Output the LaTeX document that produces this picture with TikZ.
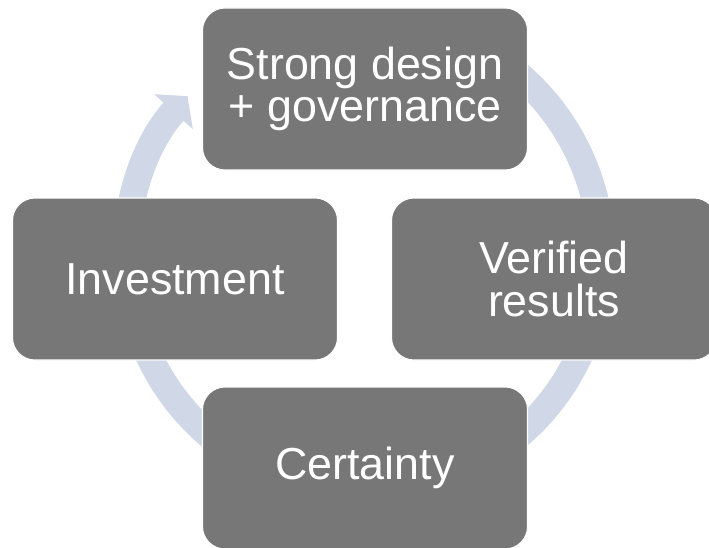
\documentclass[tikz,border=0pt]{standalone}
\usepackage{fontspec}
\setmainfont{Liberation Sans}
\usetikzlibrary{positioning, arrows.meta, calc}
\definecolor{boxgray}{RGB}{119,119,119}
\definecolor{ringblue}{RGB}{208,216,232}
\tikzset{%
  stage/.style={rectangle, rounded corners=0.45cm, fill=boxgray, draw=white, line width=0.6pt,
    minimum width=6.5cm, minimum height=3.24cm, inner sep=0mm, outer sep=0mm,
    text=white, align=center, font=\fontsize{25.5}{24}\selectfont},
  ring/.style={draw=ringblue, line width=0.54cm,
    -{Triangle[width=1.02cm, length=0.42cm]}},
}

\begin{document}
\begin{tikzpicture}
  \useasboundingbox (0,0) rectangle (14.18,-10.94);

  \coordinate (hub) at (7.28,-5.1);
  \coordinate (start) at ($(hub)+(70:4.75)$);

  \draw[ring] (start) arc[start angle=70, end angle=-222, radius=4.75];

  \node[stage] (design) at (7.3,-1.78) {Strong design\\+ governance};
  \node[stage, below left=0.56cm and -2.7cm of design] (invest) {Investment};
  \node[stage, below right=0.56cm and -2.72cm of design] (verified) {Verified\\results};
  \node[stage, below right=0.54cm and -2.7cm of invest] (certainty) {Certainty};
\end{tikzpicture}
\end{document}
